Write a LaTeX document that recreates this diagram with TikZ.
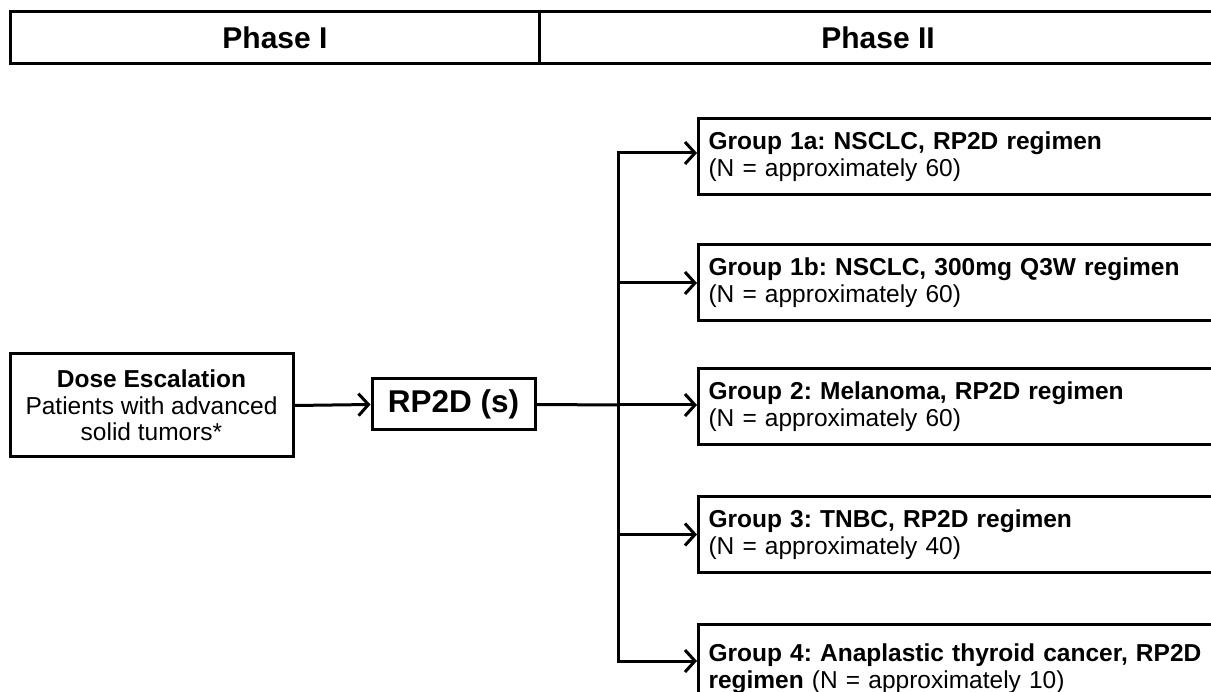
\documentclass[tikz,border=0pt]{standalone}
\usepackage{fontspec}
\setmainfont{Liberation Sans}
\usetikzlibrary{arrows.meta}
\frenchspacing
\begin{document}
\begin{tikzpicture}[x=1pt,y=-1pt,
  box/.style={draw, line width=3pt},
  grp/.style={box, anchor=north west, text width=560pt, inner xsep=10pt, align=left,
    font=\fontsize{24.5}{27}\selectfont\frenchspacing, minimum height=76pt},
  hdr/.style={font=\bfseries\fontsize{30}{32}\selectfont},
  arr/.style={line width=3pt, -{Straight Barb[length=10pt,width=22pt,line width=3pt]}},
  ln/.style={line width=3pt}]
\useasboundingbox (0,0) rectangle (1211,692);
\clip (0,0) rectangle (1211,692);
% header
\draw[box] (10,12) rectangle (1240,64);
\draw[ln] (539,12) -- (539,64);
\node[hdr] (p1) at (275,38) {Phase I};
\node[hdr] (p2) at (878,38) {Phase II};
% phase I
\node[box, align=center, minimum width=283pt, minimum height=103pt,
  font=\fontsize{24.5}{26.5}\selectfont] (dose) at (151.5,405.5)
  {\textbf{Dose Escalation}\\Patients with advanced\\solid tumors*};
\node[box, minimum width=163pt, minimum height=51pt,
  font=\bfseries\fontsize{31.5}{33}\selectfont] (rp) at (453.5,404.5) {RP2D (s)};
\draw[arr] (dose.east) -- (rp.west);
% phase II groups
\node[grp] (g1a) at (697,117) {\textbf{Group 1a: NSCLC, RP2D regimen}\\(N = approximately 60)};
\node[grp] (g1b) at (697,243.5) {\textbf{Group 1b: NSCLC, 300mg Q3W regimen}\\(N = approximately 60)};
\node[grp] (g2) at (697,367) {\textbf{Group 2: Melanoma, RP2D regimen}\\(N = approximately 60)};
\node[grp] (g3) at (697,495) {\textbf{Group 3: TNBC, RP2D regimen}\\(N = approximately 40)};
\node[grp, minimum height=88pt] (g4) at (697,623) {\textbf{Group 4: Anaplastic thyroid cancer, RP2D}\\\textbf{regimen} (N = approximately 10)};
\coordinate (jt) at (618,153);
\coordinate (jm) at (618,405);
\coordinate (jb) at (618,661);
\draw[ln] (rp.east) -- (jm);
\draw[ln, line cap=rect] (jt) -- (jb);
\draw[arr] (jt) -- (jt -| g1a.west);
\draw[arr] (jt |- g1b.west) -- (g1b.west);
\draw[arr] (jm) -- (jm -| g2.west);
\draw[arr] (jt |- g3.west) -- (g3.west);
\draw[arr] (jb) -- (jb -| g4.west);
\end{tikzpicture}
\end{document}
